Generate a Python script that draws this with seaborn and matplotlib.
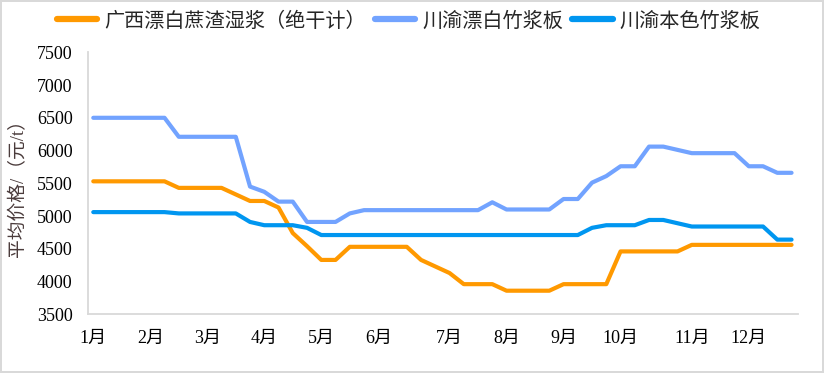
import seaborn as sns
import pandas as pd
import matplotlib.pyplot as plt

# weekly average prices, 50 weeks
weeks = list(range(50))
gx_bagasse = ([5530] * 6 + [5430] * 4 + [5330] + [5230] * 2 + [5130, 4740, 4540]
              + [4330] * 2 + [4530] * 5 + [4330, 4230, 4130] + [3960] * 3
              + [3860] * 4 + [3960] * 4 + [4460] * 5 + [4560] * 8)
cy_bleached = ([6500] * 6 + [6210] * 5 + [5450, 5370] + [5220] * 2 + [4910] * 3
               + [5040] + [5090] * 9 + [5210] + [5100] * 4 + [5260] * 2
               + [5510, 5610] + [5760] * 2 + [6060] * 2 + [6010] + [5960] * 4
               + [5760] * 2 + [5660] * 2)
cy_natural = ([5060] * 6 + [5040] * 5 + [4910] + [4860] * 3 + [4820] + [4710] * 19
              + [4820] + [4860] * 3 + [4940] * 2 + [4890] + [4840] * 6 + [4640] * 2)

series_names = ['广西漂白蔗渣湿浆（绝干计）', '川渝漂白竹浆板', '川渝本色竹浆板']
colors = ['#FF9900', '#72A3FF', '#0096F0']

month_pos = [0, 4, 8, 12, 16, 20, 25, 29, 33, 37, 42, 46]
month_labels = ['1月', '2月', '3月', '4月', '5月', '6月', '7月', '8月', '9月', '10月', '11月', '12月']

df = pd.DataFrame({
    'week': weeks * 3,
    'price': gx_bagasse + cy_bleached + cy_natural,
    'series': [series_names[0]] * 50 + [series_names[1]] * 50 + [series_names[2]] * 50,
})

sns.set_theme(style='white')
plt.rcParams['font.family'] = ['Liberation Serif', 'Noto Sans CJK SC']

fig = plt.figure(figsize=(8.24, 3.73), dpi=100, edgecolor='#d9d9d9', linewidth=1.5)
ax = fig.add_axes([0.1068, 0.1574, 0.8616, 0.7024])

sns.lineplot(data=df, x='week', y='price', hue='series', hue_order=series_names,
             palette=colors, linewidth=3, ax=ax, sort=False)

ax.set_xlim(-0.37, 49.45)
ax.set_ylim(3500, 7500)
ax.set_yticks(range(3500, 7501, 500))
ax.set_xticks(month_pos)
ax.set_xticklabels(month_labels)
ax.tick_params(axis='both', length=0, labelsize=13, colors='black')
ax.tick_params(axis='y', pad=11)
ax.tick_params(axis='x', pad=11)

ax.set_xlabel('')
ax.set_ylabel('平均价格/（元/t）', fontsize=13.5, color='#4a3b3b')
ax.yaxis.set_label_coords(-0.085, 0.5)

for s in ['top', 'right']:
    ax.spines[s].set_visible(False)
for s in ['left', 'bottom']:
    ax.spines[s].set_color('#d9d9d9')
    ax.spines[s].set_linewidth(1.3)

sns.move_legend(ax, 'center', bbox_to_anchor=(0.452, 1.116), ncol=3, frameon=False,
                title=None, fontsize=14.5, handlelength=2.0, handletextpad=0.35,
                columnspacing=0.45)
for h in ax.get_legend().get_lines():
    h.set_linewidth(4.5)
    h.set_solid_capstyle('round')

plt.savefig('out.png', dpi=100)
